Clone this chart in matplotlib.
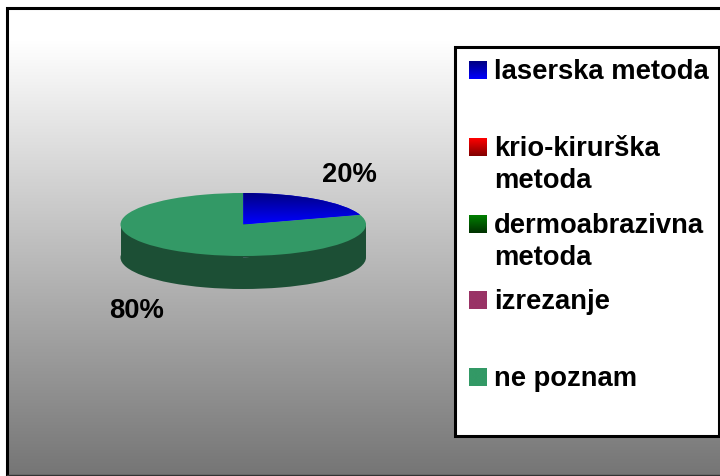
import numpy as np
from matplotlib import pyplot as plt
from matplotlib.colors import LinearSegmentedColormap
from matplotlib.patches import Rectangle

# chart values
categories = ['laserska metoda', 'krio-kirurška\nmetoda', 'dermoabrazivna\nmetoda', 'izrezanje', 'ne poznam']
values = [20, 0, 0, 0, 80]
pct_labels = ['20%', '80%']

W, H = 720, 476
plt.rcParams['font.family'] = ['Liberation Sans', 'DejaVu Sans']
plt.rcParams['font.weight'] = 'bold'
plt.rcParams['font.size'] = 19.7

fig = plt.figure(figsize=(W / 100, H / 100), dpi=100, facecolor='white')


def px_axes(x0, y0, x1, y1, **kw):
    return fig.add_axes([x0 / W, 1 - y1 / H, (x1 - x0) / W, (y1 - y0) / H], **kw)


def gradient(ax, c_top, c_bottom, extent, clip=None):
    cmap = LinearSegmentedColormap.from_list('g', [c_top, c_bottom])
    im = ax.imshow(np.linspace(0, 1, 256).reshape(-1, 1), cmap=cmap, aspect='auto',
                   extent=extent, zorder=3, interpolation='bilinear')
    if clip is not None:
        im.set_clip_path(clip)
    return im


# page layer in pixel coordinates
bg = px_axes(0, 0, W, H)
bg.axis('off')
# stays white down to about y=40, then fades to grey
gradient(bg, '#ffffff', '#757575', (6.5, W, H, 40))
# outer frame: heavy on the left and top, thin on the bottom, none on the right
bg.plot([6.5, 6.5, W], [H, 7.5, 7.5], color='black', lw=2.2, zorder=4, solid_joinstyle='miter')
bg.plot([6.5, W], [475.3, 475.3], color='#333333', lw=1, zorder=4)

# legend box
bg.add_patch(Rectangle((455, 47), 718.5 - 455, 389, fc='white', ec='black', lw=2.2, zorder=5))
swatches = [('#000080', '#0000ff', 62), ('#ff0000', '#800000', 139), ('#008000', '#003000', 216),
            ('#993366', '#993366', 292), ('#339966', '#339966', 369)]
line_px = 32
for (top, bottom, y), name in zip(swatches, categories):
    im = gradient(bg, top, bottom, (469, 487, y + 17.5, y))
    im.set_zorder(6)
    # multi-line text sits on the baseline of its last line
    base = y + 16.7 + line_px * name.count('\n')
    bg.text(494, base, name, ha='left', va='baseline', color='black', zorder=7, linespacing=1.28)
bg.set_xlim(0, W)
bg.set_ylim(H, 0)

# pie, squashed to an ellipse by its axes
ry = 31.5
depth = 33 / ry
ax = px_axes(120.5, 193, 366, 256 + 33)
ax.patch.set_alpha(0)
colors = ['#0000ff', '#ff0000', '#008000', '#993366', '#339966']
side = ['#00005a', '#5a0000', '#003000', '#4d1a33', '#1c4f35']
ax.pie(values, colors=side, startangle=90, counterclock=False, center=(0, -depth), radius=1,
       wedgeprops={'linewidth': 0})
ax.add_patch(Rectangle((-1, -depth), 2, depth, fc='#1c4f35', ec='none'))
wedges, _ = ax.pie(values, colors=colors, startangle=90, counterclock=False, center=(0, 0), radius=1,
                   wedgeprops={'linewidth': 0})
ax.axis('off')
# blue slice shades from dark at the rim to bright at the centre
wedges[0].set_zorder(1)
gradient(ax, '#000080', '#0000ff', (-1, 1, 0, 1), clip=wedges[0])
ax.set_aspect('auto')
ax.set_xlim(-1, 1)
ax.set_ylim(-1 - depth, 1)

bg.text(349.5, 182.5, pct_labels[0], ha='center', va='baseline', color='black', zorder=7)
bg.text(136.5, 318.5, pct_labels[1], ha='center', va='baseline', color='black', zorder=7)

fig.savefig('out.png', dpi=100, facecolor='white')
